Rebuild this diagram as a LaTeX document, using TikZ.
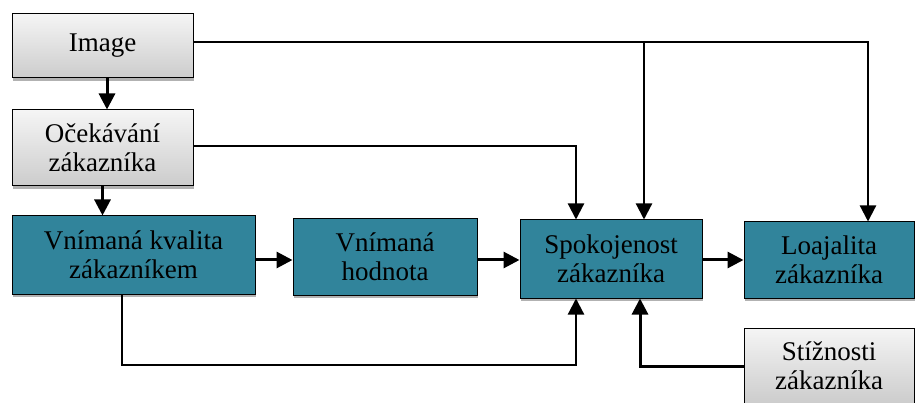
\documentclass[tikz,border=0pt]{standalone}
\usepackage{fontspec}
\setmainfont{Liberation Serif}
\usetikzlibrary{arrows.meta,shadows}
\definecolor{boxteal}{RGB}{49,132,155}
\begin{document}
\begin{tikzpicture}[x=1pt,y=-1pt,
	greybox/.style={draw=black, line width=1pt, top color=gray!8, bottom color=gray!40,
		drop shadow={shadow xshift=1pt, shadow yshift=-3pt, fill=gray!60, opacity=1},
		align=center, inner sep=0pt, font=\fontsize{27pt}{29pt}\selectfont},
	tealbox/.style={draw=black, line width=1pt, fill=boxteal,
		drop shadow={shadow xshift=1pt, shadow yshift=-3pt, fill=gray!60, opacity=1},
		align=center, inner sep=0pt, font=\fontsize{27pt}{29pt}\selectfont},
	link/.style={line width=2.2pt, -{Triangle[length=16pt,width=16pt]}}]
		
		\useasboundingbox (0,0) rectangle (915,403);
		
		%Grey input boxes
		\node[greybox, minimum width=181pt, minimum height=64pt] (img) at (102.5,46) {Image};
		\node[greybox, minimum width=181pt, minimum height=76pt] (oce) at (102.5,148) {Očekávání\\zákazníka};
		\node[greybox, minimum width=170pt, minimum height=76pt] (stiz) at (829,366) {Stížnosti\\zákazníka};
		
		%Main chain
		\node[tealbox, minimum width=243pt, minimum height=78pt] (kval) at (133.5,255) {Vnímaná kvalita\\zákazníkem};
		\node[tealbox, minimum width=184pt, minimum height=76pt] (hod) at (385,257) {Vnímaná\\hodnota};
		\node[tealbox, minimum width=182pt, minimum height=78pt] (spok) at (611,259) {Spokojenost\\zákazníka};
		\node[tealbox, minimum width=170pt, minimum height=76pt] (loaj) at (829,260) {Loajalita\\zákazníka};
		
		%Helper points
		\coordinate (row) at (0,260);
		\coordinate (lowrow) at (0,365);
		\coordinate (imgout) at ([yshift=4pt]img.east);
		\coordinate (inA) at ([xshift=-35pt]spok.north);
		\coordinate (inB) at ([xshift=33pt]spok.north);
		\coordinate (inC) at ([xshift=-35pt]spok.south);
		\coordinate (inD) at ([xshift=29pt]spok.south);
		\coordinate (inL) at ([xshift=39pt]loaj.north);
		
		%Vertical arrows on the left
		\draw[link, line width=3pt] ([xshift=4.5pt]img.south) -- ([xshift=4.5pt]oce.north);
		\draw[link, line width=3pt] (oce.south) -- (oce.south |- kval.north);
		
		%Chain arrows
		\draw[link, line width=3pt] (kval.east |- row) -- (hod.west |- row);
		\draw[link, line width=3pt] (hod.east |- row) -- (spok.west |- row);
		\draw[link, line width=3pt] (spok.east |- row) -- (loaj.west |- row);
		
		%Feedback from the top
		\draw[link] (imgout) -| (inL);
		\draw[link] (imgout -| inB) -- (inB);
		\draw[link] ([yshift=2pt]oce.east) -| (inA);
		
		%Feedback from below
		\draw[link] ([xshift=-11.5pt]kval.south) |- (lowrow -| inC) -- (inC);
		\draw[link, line width=3pt] (stiz.west) -| (inD);
		
\end{tikzpicture}
\end{document}
